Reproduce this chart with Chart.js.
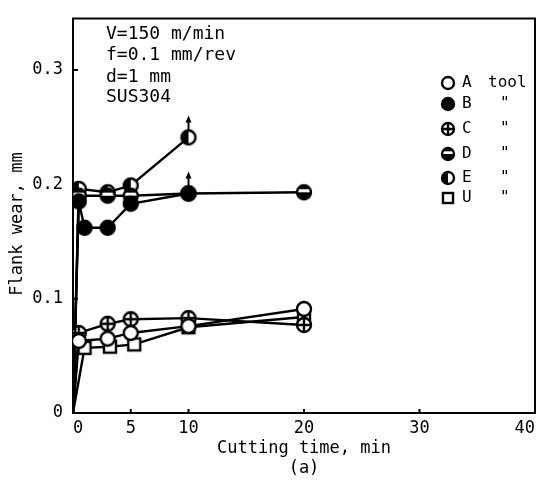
<!DOCTYPE html>
<html>
<head>
<meta charset="utf-8">
<script src="https://cdn.jsdelivr.net/npm/chart.js@4.4.1/dist/chart.umd.min.js"></script>
<style>
  html, body { margin: 0; padding: 0; background: #fff; }
</style>
</head>
<body>
<canvas id="myChart" width="537" height="484"></canvas>
<script>
// cutting time (min) and flank wear (mm) for each tool
const timeA = [0, 0.5, 3, 5, 10, 20];
const wearA = [0, 0.063, 0.065, 0.070, 0.076, 0.091];
const timeB = [0, 0.5, 1, 3, 5, 10];
const wearB = [0, 0.185, 0.162, 0.162, 0.183, 0.192];
const timeC = [0, 0.5, 3, 5, 10, 20];
const wearC = [0, 0.070, 0.078, 0.082, 0.083, 0.077];
const timeD = [0, 0.5, 3, 5, 10, 20];
const wearD = [0, 0.190, 0.190, 0.190, 0.192, 0.193];
const timeE = [0, 0.5, 3, 5, 10];
const wearE = [0, 0.196, 0.193, 0.199, 0.241];
const timeU = [0, 1, 3.2, 5.3, 10, 20];
const wearU = [0, 0.057, 0.058, 0.060, 0.075, 0.084];

const tools = ['A', 'B', 'C', 'D', 'E', 'U'];
const toolNotes = ['tool', '"', '"', '"', '"', '"'];
const xTicks = [0, 5, 10, 20, 30, 40];
const yTicks = [0, 0.1, 0.2, 0.3];
const yTickLabels = ['0', '0.1', '0.2', '0.3'];
// points where wear kept rising (arrow up)
const arrowTime = [10, 10];
const arrowWear = [0.241, 0.192];
const conditions = ['V=150 m/min', 'f=0.1 mm/rev', 'd=1 mm', 'SUS304'];
const yTitle = 'Flank wear, mm';

const MONO = '"DejaVu Sans Mono", "Liberation Mono", monospace';

function drawMarker(c, kind, x, y, r) {
    c.save();
    c.lineWidth = 2.4;
    c.strokeStyle = '#000';
    if (kind === 'U') {
        c.fillStyle = '#fff';
        c.fillRect(x - r + 1, y - r + 1, 2 * r - 2, 2 * r - 2);
        c.strokeRect(x - r + 1, y - r + 1, 2 * r - 2, 2 * r - 2);
        c.restore();
        return;
    }
    c.beginPath();
    c.arc(x, y, r, 0, Math.PI * 2);
    c.fillStyle = kind === 'B' ? '#000' : '#fff';
    c.fill();
    if (kind === 'D' || kind === 'E') {
        c.save();
        c.clip();
        c.fillStyle = '#000';
        if (kind === 'D') {
            c.fillRect(x - r, y - r, 2 * r, r * 0.55);
            c.fillRect(x - r, y, 2 * r, r);
        } else {
            c.fillRect(x - r, y - r, r, 2 * r);
        }
        c.restore();
    }
    if (kind === 'C') {
        c.beginPath();
        c.moveTo(x - r, y); c.lineTo(x + r, y);
        c.moveTo(x, y - r); c.lineTo(x, y + r);
        c.stroke();
    }
    c.beginPath();
    c.arc(x, y, r, 0, Math.PI * 2);
    c.stroke();
    c.restore();
}

function markerCanvas(kind) {
    const cv = document.createElement('canvas');
    cv.width = 20; cv.height = 20;
    drawMarker(cv.getContext('2d'), kind, 10, 10, 7);
    return cv;
}

const series = [
    ['A', timeA, wearA], ['B', timeB, wearB], ['C', timeC, wearC],
    ['D', timeD, wearD], ['E', timeE, wearE], ['U', timeU, wearU]
];

const datasets = series.map(([kind, t, w]) => ({
    label: kind,
    data: t.map((v, i) => ({ x: v, y: w[i] })),
    showLine: true,
    borderColor: '#000',
    borderWidth: 2.4,
    pointStyle: markerCanvas(kind),
    pointRadius: ctx => ctx.dataIndex === 0 ? 0 : 7,
    pointHoverRadius: ctx => ctx.dataIndex === 0 ? 0 : 7
}));

const decor = {
    id: 'decor',
    beforeDatasetsDraw(chart) {
        const c = chart.ctx, a = chart.chartArea;
        const xs = chart.scales.x, ys = chart.scales.y;
        c.save();
        c.strokeStyle = '#000';
        c.lineWidth = 2;
        c.strokeRect(a.left, a.top, a.right - a.left, a.bottom - a.top);
        c.beginPath();
        yTicks.slice(1).forEach(v => {
            const py = ys.getPixelForValue(v);
            c.moveTo(a.left, py); c.lineTo(a.left + 5, py);
        });
        xTicks.slice(1, -1).forEach(v => {
            const px = xs.getPixelForValue(v);
            c.moveTo(px, a.bottom); c.lineTo(px, a.bottom - 4);
        });
        c.stroke();
        // y axis title
        c.fillStyle = '#000';
        c.font = '17px ' + MONO;
        c.textAlign = 'center';
        c.textBaseline = 'middle';
        c.translate(18, 224);
        c.rotate(-Math.PI / 2);
        c.fillText(yTitle, 0, 0);
        c.restore();
    },
    afterDraw(chart) {
        const c = chart.ctx;
        const xs = chart.scales.x, ys = chart.scales.y;
        c.save();
        c.fillStyle = '#000';
        c.strokeStyle = '#000';
        c.lineWidth = 2;
        // arrows
        arrowTime.forEach((t, i) => {
            const px = xs.getPixelForValue(t), py = ys.getPixelForValue(arrowWear[i]);
            c.beginPath();
            c.moveTo(px, py - 7); c.lineTo(px, py - 16);
            c.stroke();
            c.beginPath();
            c.moveTo(px, py - 22); c.lineTo(px - 3, py - 15); c.lineTo(px + 3, py - 15);
            c.closePath();
            c.fill();
        });
        // cutting conditions
        c.font = '18px ' + MONO;
        c.textBaseline = 'middle';
        c.textAlign = 'left';
        const condY = [34, 55, 77, 97];
        conditions.forEach((s, i) => c.fillText(s, 106, condY[i]));
        // legend
        const legY = [83, 104, 129, 154, 178, 198];
        c.font = '16px ' + MONO;
        tools.forEach((k, i) => {
            drawMarker(c, k, 448, legY[i], 6);
            c.fillText(k, 462, legY[i]);
            c.fillText(toolNotes[i], i === 0 ? 488 : 500, legY[i]);
        });
        c.restore();
    }
};

const ctx = document.getElementById('myChart').getContext('2d');
const myChart = new Chart(ctx, {
    type: 'scatter',
    data: { datasets: datasets },
    options: {
        responsive: false,
        animation: false,
        devicePixelRatio: 1,
        layout: { autoPadding: false, padding: { top: 11, right: 2, left: 0, bottom: 0 } },
        plugins: { legend: { display: false }, tooltip: { enabled: false } },
        scales: {
            x: {
                type: 'linear', min: 0, max: 40,
                afterBuildTicks: s => { s.ticks = xTicks.map(v => ({ value: v })); },
                afterFit: s => { s.height = 71; },
                grid: { display: false, drawTicks: false },
                border: { display: false },
                ticks: {
                    autoSkip: false, maxRotation: 0, align: 'inner', padding: 2,
                    color: '#000', font: { family: MONO, size: 17, lineHeight: 1.65 },
                    callback: v => String(v)
                },
                title: {
                    display: true, text: ['Cutting time, min', '(a)'], color: '#000',
                    font: { family: MONO, size: 17, lineHeight: 1.18 },
                    padding: { top: 0, bottom: 5 }
                }
            },
            y: {
                type: 'linear', min: 0, max: 0.345,
                afterBuildTicks: s => { s.ticks = yTicks.map(v => ({ value: v })); },
                afterFit: s => { s.width = 73; },
                grid: { display: false, drawTicks: false },
                border: { display: false },
                ticks: {
                    padding: 10, color: '#000',
                    font: { family: MONO, size: 17, lineHeight: 1 },
                    callback: (v, i) => yTickLabels[i]
                },
                title: { display: false }
            }
        }
    },
    plugins: [decor]
});
</script>
</body>
</html>
